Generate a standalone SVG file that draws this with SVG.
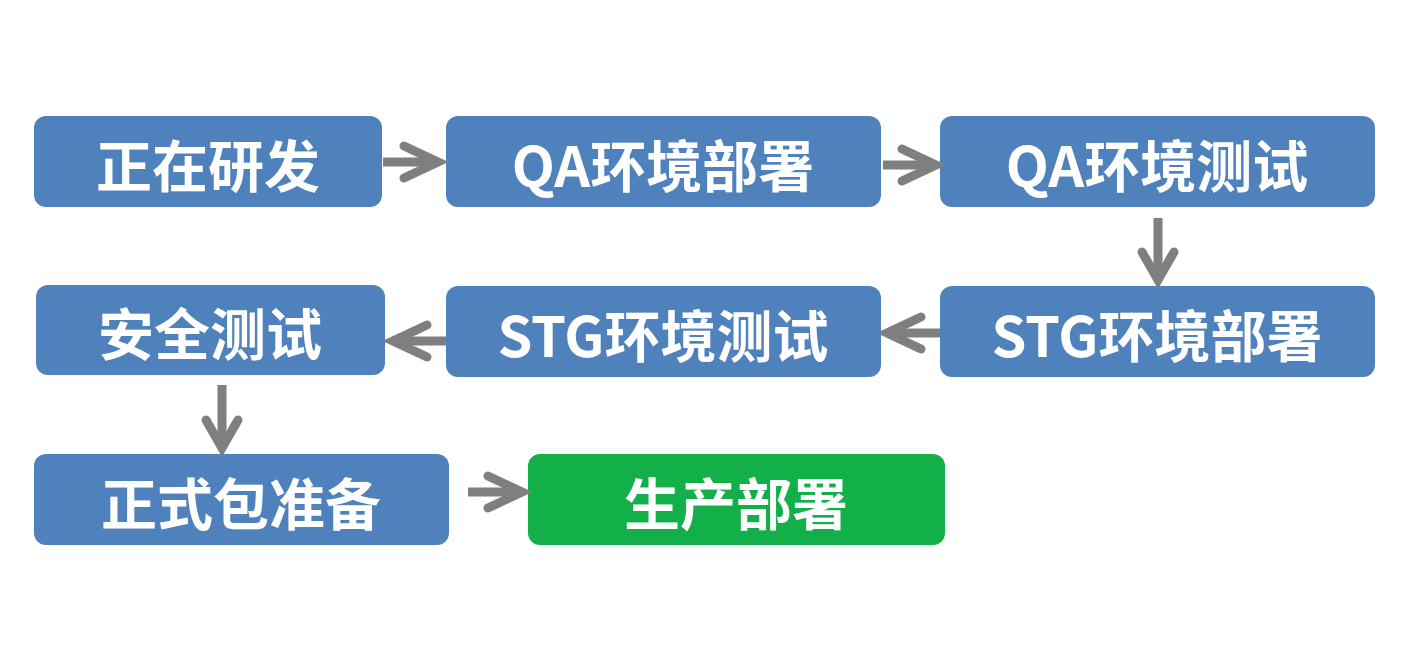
<svg xmlns="http://www.w3.org/2000/svg" width="1420" height="657" viewBox="0 0 1420 657">
<style>
.b{fill:#4F81BD}.g{fill:#13B04A}
text{font-family:"Noto Sans CJK SC","Liberation Sans",sans-serif;font-weight:bold;font-size:56px;fill:#fff;text-anchor:middle;dominant-baseline:central}
.s{stroke:#7F7F7F;stroke-width:9;fill:none}
.h{stroke:#7F7F7F;stroke-width:9;fill:none;stroke-linecap:round;stroke-linejoin:miter}
</style>
<rect width="1420" height="657" fill="#fff"/>
<g id="n1"><rect class="b" x="34" y="116" width="348" height="91" rx="12"/><text x="208" y="162">正在研发</text></g>
<g id="n2"><rect class="b" x="446" y="116" width="435" height="91" rx="12"/><text x="663" y="162">QA环境部署</text></g>
<g id="n3"><rect class="b" x="940" y="116" width="435" height="91" rx="12"/><text x="1157" y="162">QA环境测试</text></g>
<g id="n4"><rect class="b" x="940" y="286" width="435" height="91" rx="12"/><text x="1157" y="332">STG环境部署</text></g>
<g id="n5"><rect class="b" x="446" y="286" width="435" height="91" rx="12"/><text x="663" y="332">STG环境测试</text></g>
<g id="n6"><rect class="b" x="36" y="285" width="349" height="90" rx="12"/><text x="210" y="330">安全测试</text></g>
<g id="n7"><rect class="b" x="34" y="454" width="415" height="91" rx="12"/><text x="241" y="500">正式包准备</text></g>
<g id="n8"><rect class="g" x="528" y="454" width="417" height="91" rx="12"/><text x="736" y="500">生产部署</text></g>
<g id="connectors">
<path class="s" d="M383 162H436"/><path class="h" d="M404 146L438 162L404 178"/>
<path class="s" d="M883 165H934"/><path class="h" d="M902 149L936 165L902 181"/>
<path class="s" d="M1158 218V276"/><path class="h" d="M1142 252L1158 280L1174 252"/>
<path class="s" d="M940 333H889"/><path class="h" d="M921 317L887 333L921 349"/>
<path class="s" d="M446 341H395"/><path class="h" d="M427 325L393 341L427 357"/>
<path class="s" d="M222 385V444"/><path class="h" d="M206 420L222 448L238 420"/>
<path class="s" d="M468 492H520"/><path class="h" d="M488 476L522 492L488 508"/>
</g>
</svg>
